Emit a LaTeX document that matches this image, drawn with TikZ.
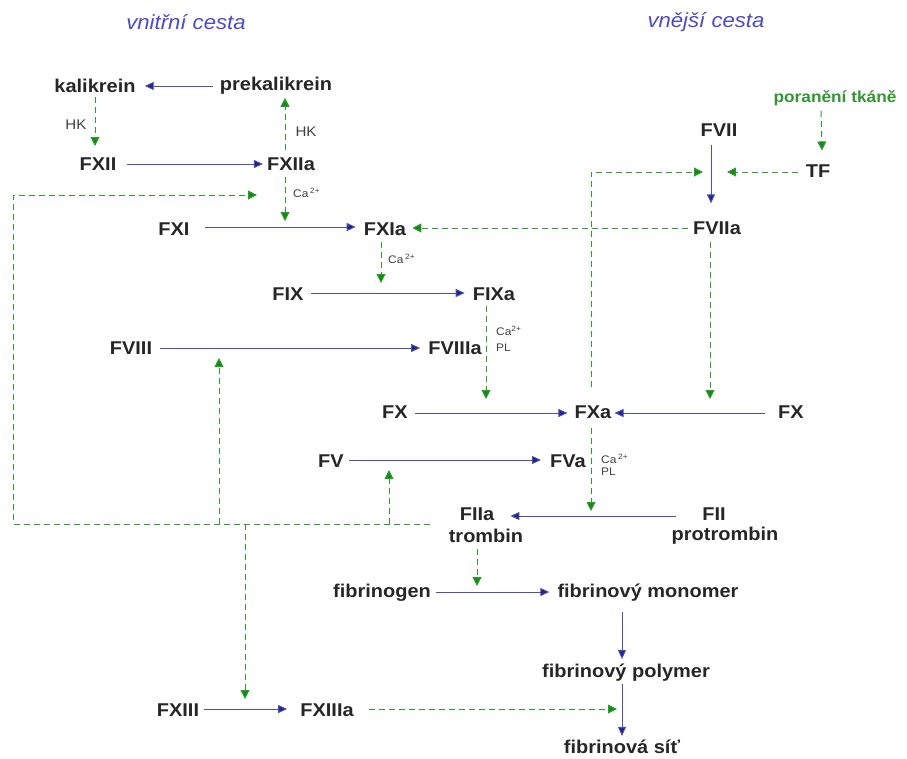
\documentclass[tikz,border=0pt]{standalone}
\usepackage{fontspec}
\setmainfont{Liberation Sans}[FakeStretch=1.08]
\usetikzlibrary{arrows.meta}
\definecolor{navy}{RGB}{35,35,145}
\definecolor{dgreen}{RGB}{25,135,25}
\definecolor{lgreen}{RGB}{45,155,45}
\definecolor{ttl}{RGB}{75,75,200}
\definecolor{gtext}{RGB}{50,150,50}
\begin{document}
\begin{tikzpicture}[x=1pt,y=-1pt,
  lbl/.style={font=\bfseries\fontsize{18.5}{20}\selectfont, inner sep=0pt, text=black!85},
  ttlstyle/.style={font=\itshape\fontsize{20.5}{22}\selectfont, inner sep=0pt, text=ttl},
  gstyle/.style={font=\bfseries\fontsize{16}{18}\selectfont, inner sep=0pt, text=gtext},
  small/.style={font=\fontsize{14}{15}\selectfont, inner sep=0pt, text=black!75},
  tiny/.style={font=\fontsize{11}{12}\selectfont, inner sep=0pt, text=black!75},
  conv/.style={draw=navy!80, line width=0.9pt, -{Triangle[length=9pt,width=8pt,fill=navy]}},
  act/.style={draw=lgreen, line width=1pt, dash pattern=on 6pt off 4pt, -{Triangle[length=9pt,width=9pt,fill=dgreen]}},
]
\useasboundingbox (0,0) rectangle (907,758);

% titles
\node[ttlstyle] (vc) at (186,22) {vnitřní cesta};
\node[ttlstyle] (ec) at (706,22) {vnější cesta};

% nodes
\node[lbl] (kal) at (95,86) {kalikrein};
\node[lbl] (prek) at (276,86) {prekalikrein};
\node[lbl] (f12) at (98,164) {FXII};
\node[lbl] (f12a) at (291,164) {FXIIa};
\node[lbl] (f11) at (174,229) {FXI};
\node[lbl] (f11a) at (385,229) {FXIa};
\node[lbl] (f9) at (288,294) {FIX};
\node[lbl] (f9a) at (494,294) {FIXa};
\node[lbl] (f8) at (131,348) {FVIII};
\node[lbl] (f8a) at (455,348) {FVIIIa};
\node[lbl] (f10l) at (395,412) {FX};
\node[lbl] (f10a) at (593,412) {FXa};
\node[lbl] (f10r) at (791,412) {FX};
\node[lbl] (f5) at (331,461) {FV};
\node[lbl] (f5a) at (568,461) {FVa};
\node[lbl] (f2a) at (477,514) {FIIa};
\node[lbl] (f2at) at (486,536) {trombin};
\node[lbl] (f2) at (714,514) {FII};
\node[lbl] (f2t) at (725,536) {protrombin};
\node[lbl] (fbg) at (382,593) {fibrinogen};
\node[lbl] (mono) at (648,593) {fibrinový monomer};
\node[lbl] (poly) at (626,673) {fibrinový polymer};
\node[lbl] (sit) at (622,747) {fibrinová síť};
\node[lbl] (f13) at (178,710) {FXIII};
\node[lbl] (f13a) at (327,710) {FXIIIa};
\node[lbl] (f7) at (719,130) {FVII};
\node[lbl] (f7a) at (717,228) {FVIIa};
\node[lbl] (tf) at (818,171) {TF};
\node[gstyle] (por) at (835,98) {poranění tkáně};

% small labels
\node[small] (hk1) at (76,125) {HK};
\node[small] (hk2) at (306,132) {HK};
\node[tiny, anchor=west] (ca1) at (293,193) {Ca\,\textsuperscript{2+}};
\node[tiny, anchor=west] (ca2) at (388,259) {Ca\,\textsuperscript{2+}};
\node[tiny, anchor=west] (ca3) at (496,331) {Ca\textsuperscript{2+}};
\node[tiny, anchor=west] (pl3) at (496,348) {PL};
\node[tiny, anchor=west] (ca4) at (601,459) {Ca\,\textsuperscript{2+}};
\node[tiny, anchor=west] (pl4) at (601,472) {PL};

% target coordinates on arrows
\coordinate (c11) at (285,221);
\coordinate (c12) at (257,195);
\coordinate (c9) at (381,283);
\coordinate (c10) at (486,399);
\coordinate (c10r) at (710,399);
\coordinate (c7l) at (703,172);
\coordinate (c7r) at (727,172);
\coordinate (c8) at (219,358);
\coordinate (c5) at (389,470);
\coordinate (c13) at (245,699);
\coordinate (c2) at (591,511);
\coordinate (cf) at (477,586);
\coordinate (cs) at (617,709);
\coordinate (j8) at (219,524);
\coordinate (j5) at (389,524);
\coordinate (j13) at (245,524);

% conversions (blue)
\draw[conv] ([xshift=-7pt]prek.west) -- ([xshift=9pt]kal.east);
\draw[conv] ([xshift=10pt]f12.east) -- ([xshift=-4pt]f12a.west);
\draw[conv] ([xshift=15pt,yshift=2pt]f11.east) -- ([xshift=-8pt,yshift=2pt]f11a.west);
\draw[conv] ([xshift=7pt,yshift=1pt]f9.east) -- ([xshift=-8pt,yshift=1pt]f9a.west);
\draw[conv] ([xshift=8pt]f8.east) -- ([xshift=-8pt]f8a.west);
\draw[conv] ([xshift=7pt,yshift=-1pt]f10l.east) -- ([xshift=-7pt,yshift=-1pt]f10a.west);
\draw[conv] ([xshift=-13pt,yshift=-1pt]f10r.west) -- ([xshift=3pt,yshift=-1pt]f10a.east);
\draw[conv] ([xshift=5pt,yshift=1pt]f5.east) -- ([xshift=-9pt,yshift=1pt]f5a.west);
\draw[conv] ([xshift=-26pt,yshift=-2pt]f2.west) -- ([xshift=16pt,yshift=-2pt]f2a.east);
\draw[conv] ([xshift=5pt,yshift=1pt]fbg.east) -- ([xshift=-8pt,yshift=1pt]mono.west);
\draw[conv] ([xshift=-26pt,yshift=-10pt]mono.south) -- ([xshift=-4pt,yshift=5pt]poly.north);
\draw[conv] ([xshift=-4pt,yshift=-2pt]poly.south) -- ([yshift=4pt]sit.north);
\draw[conv] ([xshift=5pt,yshift=1pt]f13.east) -- ([xshift=-13pt,yshift=1pt]f13a.west);
\draw[conv] ([xshift=-8pt,yshift=-8pt]f7.south) -- ([xshift=-6pt,yshift=18pt]f7a.north);

% activations (green dashed)
\draw[act] ([yshift=-4pt]kal.south) -- (kal.south |- 0,146);
\draw[act] ([xshift=-6pt,yshift=7pt]f12a.north) -- ([xshift=9pt,yshift=-3pt]prek.south);
\draw[act] ([xshift=-6pt,yshift=-6pt]f12a.south) -- (c11);
\draw[act] ([xshift=-5pt]f7a.west) -- ([xshift=6pt,yshift=1pt]f11a.east);
\draw[act] ([xshift=-4pt,yshift=-6pt]f11a.south) -- (c9);
\draw[act] ([xshift=-8pt,yshift=-5pt]f9a.south) -- (c10);
\draw[act] ([xshift=-7pt,yshift=-7pt]f7a.south) -- (c10r);
\draw[act] ([xshift=-14pt,yshift=-5pt]por.south) -- ([xshift=4pt,yshift=14pt]tf.north);
\draw[act] ([xshift=-8pt]tf.west |- c7r) -- (c7r);
\draw[act] ([xshift=-2pt,yshift=18pt]f10a.north) |- (c7l);
\draw[act] ([xshift=-2pt,yshift=-9pt]f10a.south) -- (c2);
\draw[act] ([xshift=-9pt,yshift=-6pt]f2at.south) -- (cf);
\draw[act] ([xshift=15pt]f13a.east |- cs) -- (cs);

% thrombin feedback loop
\draw[act] ([xshift=-30pt,yshift=-10pt]f2a.west) -- ++(-416pt,0) |- (c12);
\draw[act] (j8) -- (c8);
\draw[act] (j5) -- (c5);
\draw[act] (j13) -- (c13);
\end{tikzpicture}
\end{document}
